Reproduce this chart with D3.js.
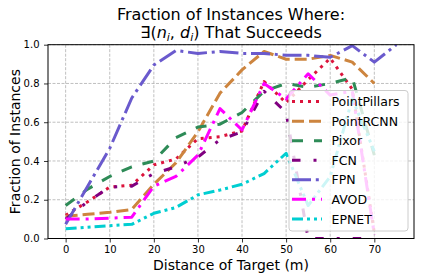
<!DOCTYPE html>
<html>
<head>
<meta charset="utf-8">
<script src="https://cdn.jsdelivr.net/npm/d3@7"></script>
<style>
  body { margin: 0; background: #fff; }
  text { font-family: "DejaVu Sans", sans-serif; fill: #000; }
</style>
</head>
<body>
<svg id="chart"></svg>
<script>
// distance bins (m)
const distances = [0, 5, 10, 15, 20, 25, 30, 35, 40, 45, 50, 55, 60, 65, 70, 75];

const pointPillars = [0.12, 0.19, 0.265, 0.275, 0.38, 0.41, 0.515, 0.525, 0.555, 0.81, 0.70, 0.82, 0.93, 0.77, 0.03];
const pointRCNN    = [0.115, 0.125, 0.135, 0.15, 0.28, 0.39, 0.55, 0.75, 0.87, 0.965, 0.925, 0.925, 0.945, 0.91, 0.80];
const pixor        = [0.17, 0.255, 0.32, 0.37, 0.40, 0.52, 0.575, 0.59, 0.65, 0.76, 0.80, 0.78, 0.80, 0.83, 0.43];
const fcn          = [0.10, 0.19, 0.265, 0.27, 0.335, 0.37, 0.42, 0.51, 0.55, 0.76, 0.65, 0.0, 0.0, 0.0, 0.0];
const fpn          = [0.073, 0.27, 0.465, 0.725, 0.895, 0.97, 0.955, 0.965, 0.955, 0.955, 0.945, 0.945, 0.935, 0.995, 0.91, 1.0];
const avod         = [0.10, 0.10, 0.105, 0.11, 0.27, 0.32, 0.43, 0.67, 0.56, 0.80, 0.72, 0.85, 0.74, 0.76, 0.02];
const epnet        = [0.05, 0.058, 0.066, 0.073, 0.13, 0.16, 0.225, 0.25, 0.28, 0.335, 0.44, 0.17, 0.32, 0.72, 0.45];

const xTicks = [0, 10, 20, 30, 40, 50, 60, 70];
const yTicks = [0.0, 0.2, 0.4, 0.6, 0.8, 1.0];

const series = [
    { name: "PointPillars", values: pointPillars, color: "crimson",       dash: "3,5" },
    { name: "PointRCNN",    values: pointRCNN,    color: "peru",          dash: "12,5" },
    { name: "Pixor",        values: pixor,        color: "seagreen",      dash: "11,11" },
    { name: "FCN",          values: fcn,          color: "purple",        dash: "8.5,13,3,13" },
    { name: "FPN",          values: fpn,          color: "slateblue",     dash: "19,4.8,3,4.8" },
    { name: "AVOD",         values: avod,         color: "magenta",       dash: "14,6,3,6" },
    { name: "EPNET",        values: epnet,        color: "darkturquoise", dash: "11,4,3,4,3,4" }
];

const width = 424;
const height = 280;
const plotL = 48, plotR = 414, plotT = 44.7, plotB = 238.5;

const svg = d3.select("#chart").attr("width", width).attr("height", height);

const x = d3.scaleLinear().domain([-4, 79]).range([plotL, plotR]);
const y = d3.scaleLinear().domain([0, 1]).range([plotB, plotT]);

// grid
const grid = svg.append("g").attr("class", "grid");
grid.selectAll("line.gx")
    .data(xTicks)
    .enter()
    .append("line")
    .attr("x1", d => x(d)).attr("x2", d => x(d))
    .attr("y1", plotT).attr("y2", plotB)
    .attr("stroke", "#b0b0b0").attr("stroke-width", 0.8)
    .attr("stroke-dasharray", "3,1.5");
grid.selectAll("line.gy")
    .data(yTicks)
    .enter()
    .append("line")
    .attr("x1", plotL).attr("x2", plotR)
    .attr("y1", d => y(d)).attr("y2", d => y(d))
    .attr("stroke", "#b0b0b0").attr("stroke-width", 0.8)
    .attr("stroke-dasharray", "3,1.5");

// clip for the plotted lines
svg.append("clipPath").attr("id", "plotClip")
    .append("rect")
    .attr("x", plotL).attr("y", plotT)
    .attr("width", plotR - plotL).attr("height", plotB - plotT);

const line = d3.line()
    .x(d => x(d[0]))
    .y(d => y(d[1]));

const lines = svg.append("g").attr("clip-path", "url(#plotClip)");
series.forEach(function (s) {
    const pts = s.values.map((v, i) => [distances[i], v]);
    lines.append("path")
        .attr("d", line(pts))
        .attr("fill", "none")
        .attr("stroke", s.color)
        .attr("stroke-width", 3)
        .attr("stroke-dasharray", s.dash)
        .attr("stroke-linejoin", "round");
});

// axes
const xAxis = svg.append("g")
    .attr("transform", "translate(0," + plotB + ")")
    .call(d3.axisBottom(x).tickValues(xTicks).tickSize(4).tickPadding(3.5).tickFormat(d3.format("d")));
const yAxis = svg.append("g")
    .attr("transform", "translate(" + plotL + ",0)")
    .call(d3.axisLeft(y).tickValues(yTicks).tickSize(4).tickPadding(4.5).tickFormat(d3.format(".1f")));

[xAxis, yAxis].forEach(function (a) {
    a.select(".domain").remove();
    a.selectAll("text").attr("font-size", 10).attr("font-family", "DejaVu Sans").attr("fill", "#000");
    a.selectAll("line").attr("stroke", "#000").attr("stroke-width", 0.8);
});

// frame
svg.append("rect")
    .attr("x", plotL).attr("y", plotT)
    .attr("width", plotR - plotL).attr("height", plotB - plotT)
    .attr("fill", "none").attr("stroke", "#000").attr("stroke-width", 1);

// legend
const legend = svg.append("g").attr("class", "legend");
legend.append("rect")
    .attr("x", 289).attr("y", 90.5)
    .attr("width", 119).attr("height", 140.5)
    .attr("rx", 3)
    .attr("fill", "#fff").attr("fill-opacity", 0.8)
    .attr("stroke", "#cccccc").attr("stroke-width", 1);

const rowH = 19.55;
series.forEach(function (s, i) {
    const cy = 101.6 + i * rowH;
    legend.append("line")
        .attr("x1", 292).attr("x2", 322)
        .attr("y1", cy).attr("y2", cy)
        .attr("stroke", s.color).attr("stroke-width", 3)
        .attr("stroke-dasharray", s.dash);
    legend.append("text")
        .attr("x", 331.5).attr("y", cy + 4.6)
        .attr("font-size", 12.5)
        .text(s.name);
});

// title
const cx = (plotL + plotR) / 2;
svg.append("text")
    .attr("x", cx).attr("y", 20)
    .attr("text-anchor", "middle")
    .attr("font-size", 16)
    .text("Fraction of Instances Where:");

const t2 = svg.append("text")
    .attr("x", cx).attr("y", 38)
    .attr("text-anchor", "middle")
    .attr("font-size", 16);
t2.append("tspan").text("\u2203(");
t2.append("tspan").attr("font-style", "italic").text("n");
t2.append("tspan").attr("font-style", "italic").attr("font-size", 11).attr("dy", 3).text("i");
t2.append("tspan").attr("dy", -3).text(", ");
t2.append("tspan").attr("font-style", "italic").text("d");
t2.append("tspan").attr("font-style", "italic").attr("font-size", 11).attr("dy", 3).text("i");
t2.append("tspan").attr("dy", -3).text(") That Succeeds");

// axis labels
svg.append("text")
    .attr("x", cx).attr("y", 269.5)
    .attr("text-anchor", "middle")
    .attr("font-size", 14)
    .text("Distance of Target (m)");

svg.append("text")
    .attr("transform", "translate(19.5," + ((plotT + plotB) / 2) + ") rotate(-90)")
    .attr("text-anchor", "middle")
    .attr("font-size", 14)
    .text("Fraction of Instances");
</script>
</body>
</html>
